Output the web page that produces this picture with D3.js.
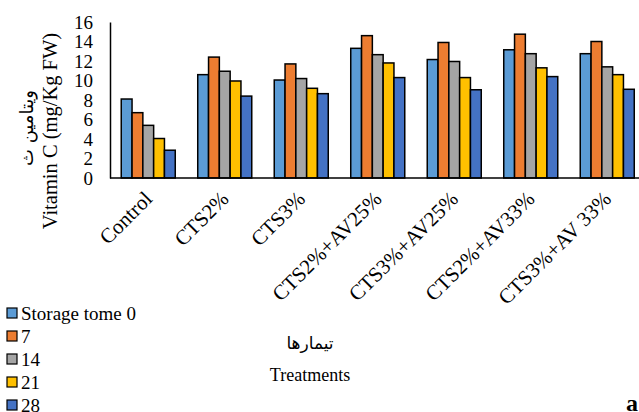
<!DOCTYPE html>
<html>
<head>
<meta charset="utf-8">
<script src="https://cdn.jsdelivr.net/npm/d3@7"></script>
<style>
  body { margin: 0; background: #fff; }
</style>
</head>
<body>
<svg width="639" height="412"></svg>
<script>
// data
const treatments = ['Control', 'CTS2%', 'CTS3%', 'CTS2%+AV25%', 'CTS3%+AV25%', 'CTS2%+AV33%', 'CTS3%+AV 33%'];
const seriesNames = ['Storage tome 0', '7', '14', '21', '28'];
const day0  = [8.1, 10.6, 10.05, 13.3, 12.15, 13.15, 12.75];
const day7  = [6.7, 12.4, 11.7, 14.6, 13.9, 14.75, 14.0];
const day14 = [5.4, 10.95, 10.2, 12.65, 11.95, 12.75, 11.4];
const day21 = [4.05, 9.95, 9.2, 11.8, 10.3, 11.3, 10.6];
const day28 = [2.85, 8.4, 8.65, 10.3, 9.05, 10.4, 9.1];
const yTicks = [0, 2, 4, 6, 8, 10, 12, 14, 16];
const colors = ['#5B9BD5', '#ED7D31', '#A5A5A5', '#FFC000', '#4472C4'];

const series = [day0, day7, day14, day21, day28];
const serif = '"Liberation Serif", "Times New Roman", serif';
const arabic = '"DejaVu Sans", sans-serif';

const svg = d3.select('svg');

const x0 = d3.scaleBand()
  .domain(treatments)
  .range([110, 645.5])
  .paddingInner(0.294)
  .paddingOuter(0.147);

const x1 = d3.scaleBand()
  .domain(seriesNames)
  .range([0, x0.bandwidth()]);

const y = d3.scaleLinear()
  .domain([0, 16])
  .range([178, 22]);

const color = d3.scaleOrdinal().domain(seriesNames).range(colors);

// bars
const groups = svg.append('g').selectAll('g')
  .data(treatments)
  .join('g')
    .attr('transform', d => `translate(${x0(d)},0)`);

groups.selectAll('rect')
  .data((d, i) => seriesNames.map((s, j) => ({ s, v: series[j][i] })))
  .join('rect')
    .attr('x', d => x1(d.s))
    .attr('y', d => y(d.v))
    .attr('width', x1.bandwidth())
    .attr('height', d => y(0) - y(d.v))
    .attr('fill', d => color(d.s))
    .attr('stroke', '#000')
    .attr('stroke-width', 1.5);

// y axis
const yAxis = d3.axisLeft(y)
  .tickValues(yTicks)
  .tickSize(0)
  .tickSizeOuter(0)
  .tickPadding(17);

const yAxisG = svg.append('g')
  .attr('transform', 'translate(110,0)')
  .call(yAxis);
yAxisG.select('.domain').attr('stroke', '#000').attr('stroke-width', 1.5);
yAxisG.selectAll('text')
  .style('font-family', serif)
  .style('font-size', '19px')
  .attr('fill', '#000');

// x axis
const xAxisG = svg.append('g')
  .attr('transform', 'translate(0,178)')
  .call(d3.axisBottom(x0).tickSize(0).tickSizeOuter(0).tickFormat(''));
xAxisG.select('.domain').attr('d', 'M110,0H639').attr('stroke', '#000').attr('stroke-width', 1.5);

svg.append('g').selectAll('text')
  .data(treatments)
  .join('text')
    .attr('transform', d => `translate(${x0(d) + x0.bandwidth() / 2},${195}) rotate(-45)`)
    .attr('text-anchor', 'end')
    .attr('dy', '0.35em')
    .style('font-family', serif)
    .style('font-size', '21px')
    .text(d => d);

// y titles
svg.append('text')
  .attr('transform', 'translate(57,131) rotate(-90)')
  .attr('text-anchor', 'middle')
  .style('font-family', serif)
  .style('font-size', '20.5px')
  .text('Vitamin C (mg/Kg FW)');

svg.append('text')
  .attr('transform', 'translate(33,128) rotate(-90)')
  .attr('text-anchor', 'middle')
  .style('font-family', arabic)
  .style('font-size', '18px')
  .text('ويتامين ث');

// x titles
svg.append('text')
  .attr('x', 310).attr('y', 349)
  .attr('text-anchor', 'middle')
  .style('font-family', arabic)
  .style('font-size', '17px')
  .text('تيمارها');

svg.append('text')
  .attr('x', 310).attr('y', 381)
  .attr('text-anchor', 'middle')
  .style('font-family', serif)
  .style('font-size', '18px')
  .text('Treatments');

// legend
const legend = svg.append('g').selectAll('g')
  .data(seriesNames)
  .join('g')
    .attr('transform', (d, i) => `translate(7,${313 + i * 23})`);

legend.append('rect')
  .attr('x', 0).attr('y', -5)
  .attr('width', 10).attr('height', 10)
  .attr('fill', d => color(d))
  .attr('stroke', '#000')
  .attr('stroke-width', 1.2);

legend.append('text')
  .attr('x', 14)
  .attr('dy', '0.35em')
  .style('font-family', serif)
  .style('font-size', '19px')
  .text(d => d);

svg.append('text')
  .attr('x', 626).attr('y', 411)
  .style('font-family', serif)
  .style('font-weight', 'bold')
  .style('font-size', '24px')
  .text('a');
</script>
</body>
</html>
